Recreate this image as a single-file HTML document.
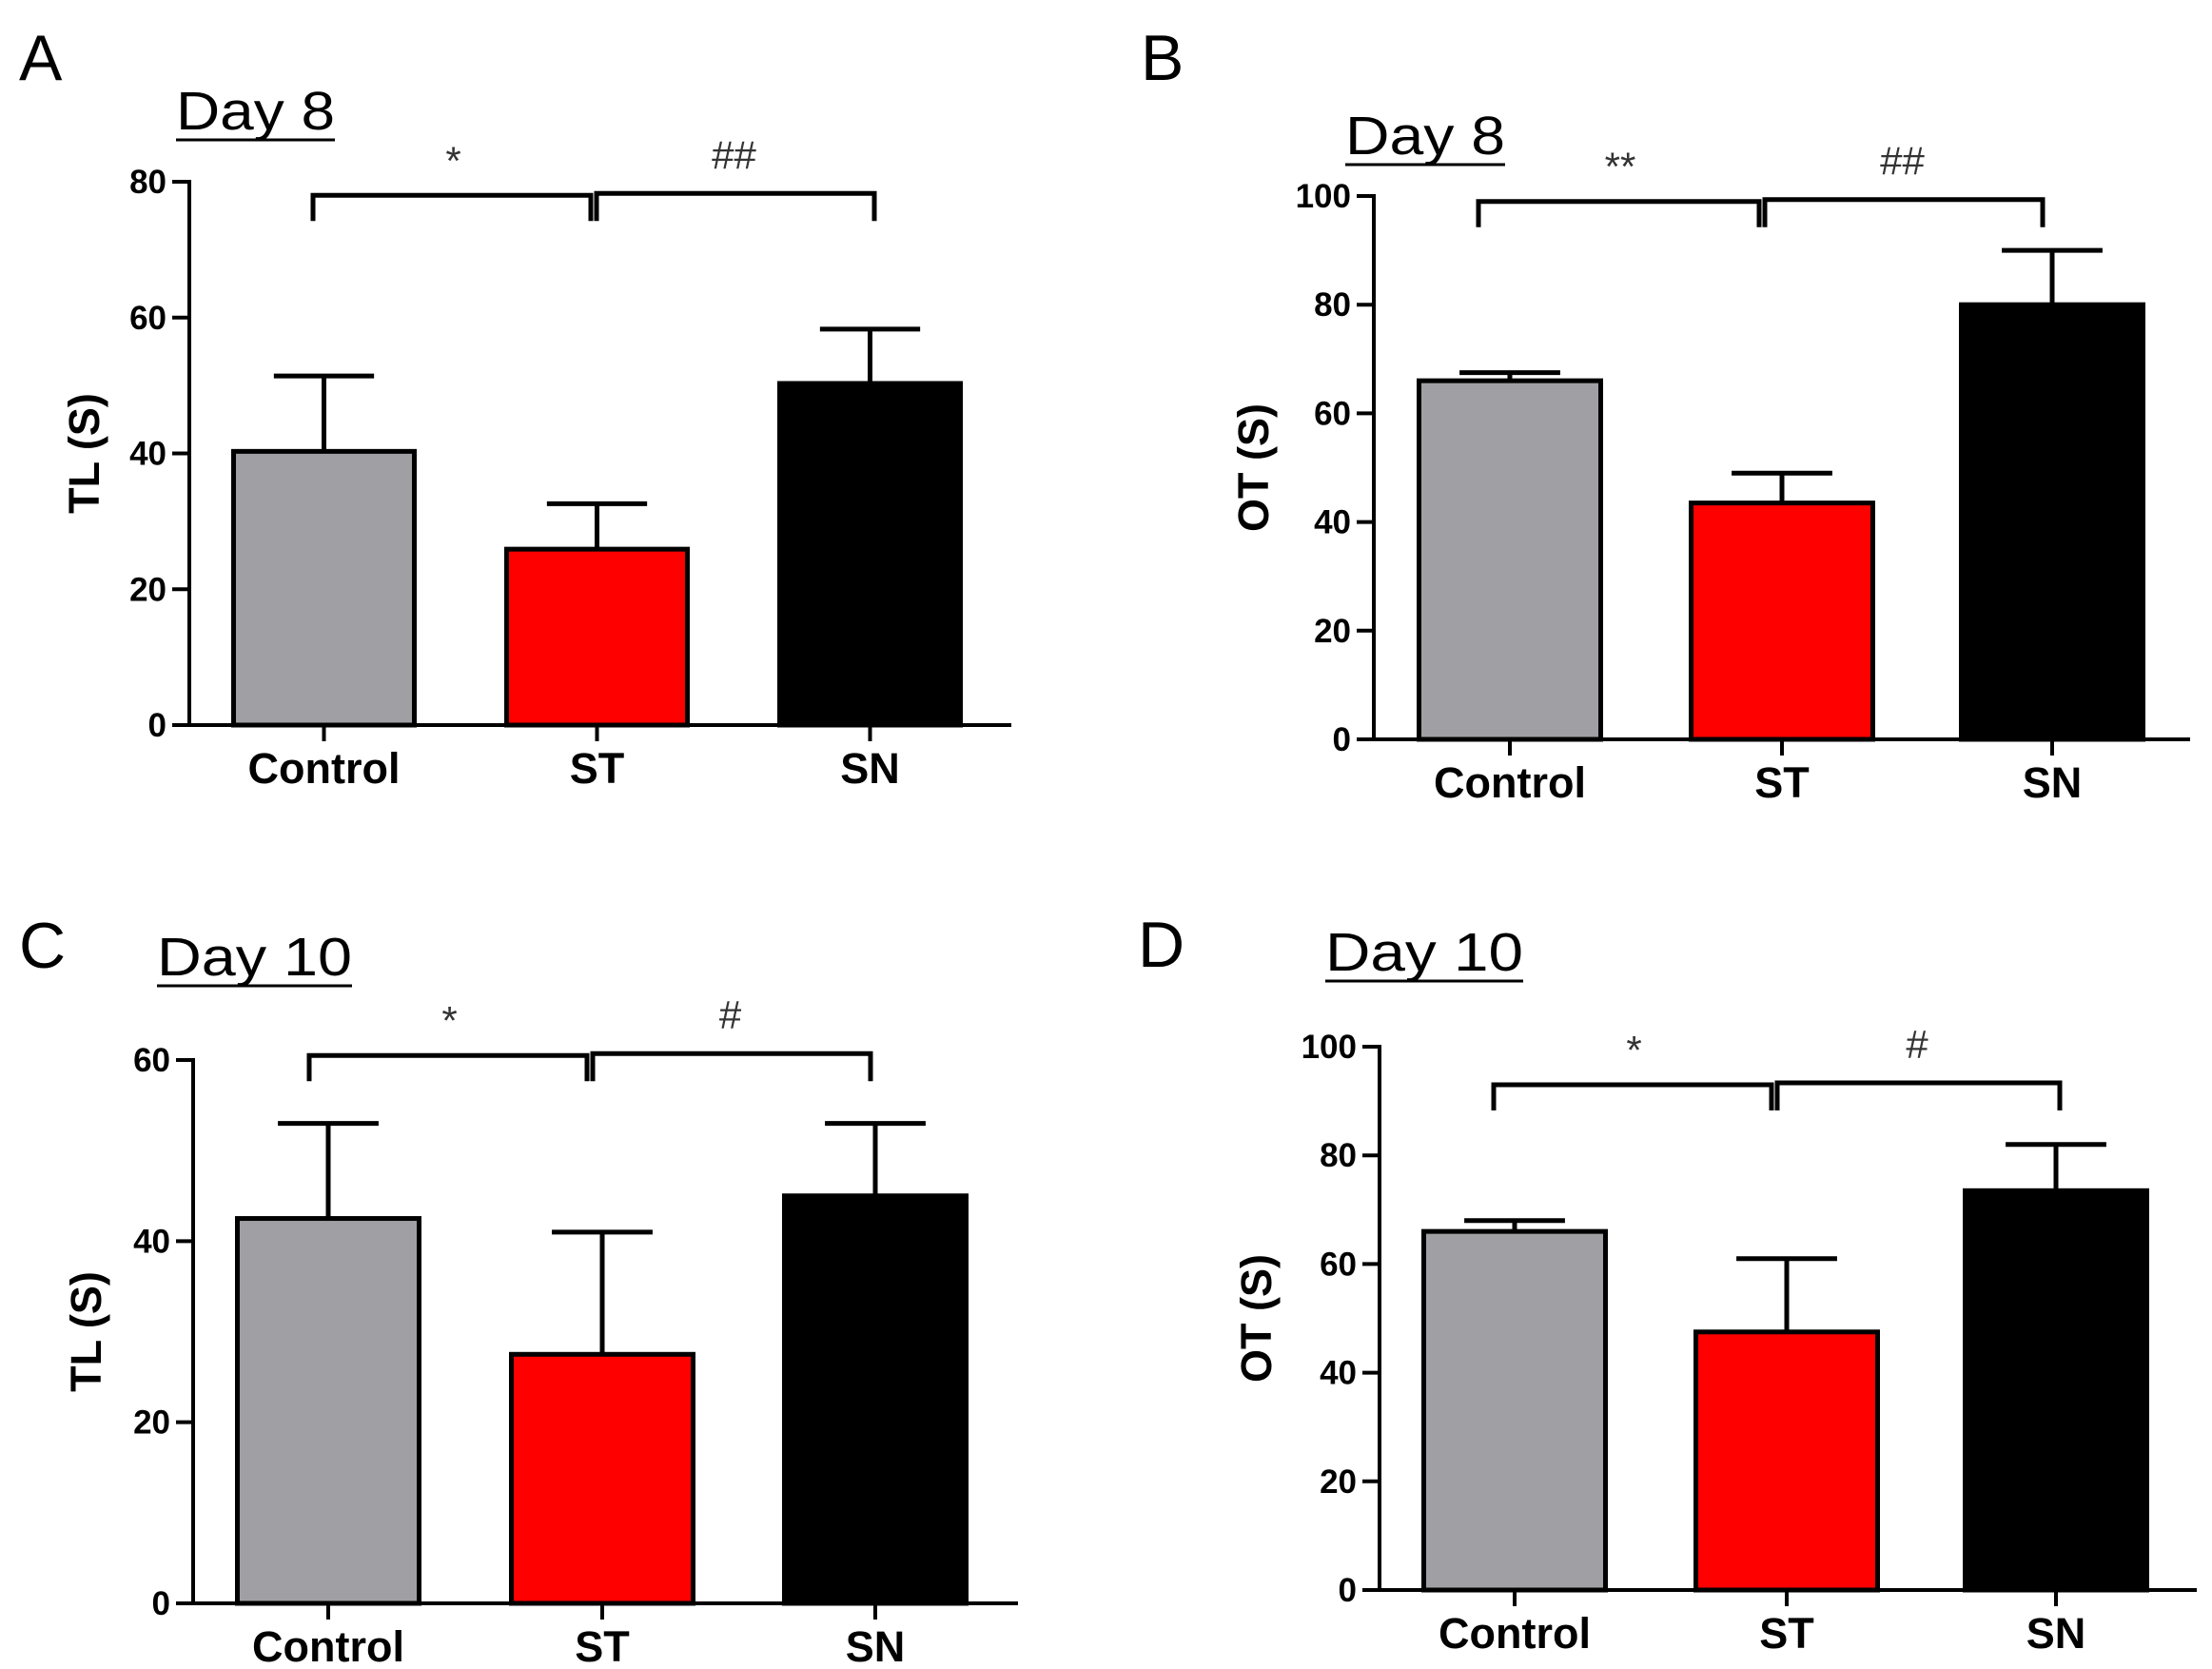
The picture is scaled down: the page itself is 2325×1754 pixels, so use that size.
<!DOCTYPE html>
<html><head><meta charset="utf-8">
<style>
html,body{margin:0;padding:0;background:#fff;}
svg{display:block;}
text{font-family:"Liberation Sans",sans-serif;}
</style></head>
<body>
<svg id="fig" width="2325" height="1754" viewBox="0 0 2325 1754" xmlns="http://www.w3.org/2000/svg"></svg>
<script>
const categories = ["Control","ST","SN"];
const aValues = [40.3, 25.9, 50.3];
const aErrors = [51.4, 32.6, 58.3];
const bValues = [66, 43.5, 80];
const bErrors = [67.5, 49, 90];
const cValues = [42.5, 27.5, 45];
const cErrors = [53, 41, 53];
const dValues = [66, 47.5, 73.5];
const dErrors = [68, 61, 82];
const aTicks = [0,20,40,60,80];
const bTicks = [0,20,40,60,80,100];
const cTicks = [0,20,40,60];
const dTicks = [0,20,40,60,80,100];
const aSig = ["*","##"];
const bSig = ["**","##"];
const cSig = ["*","#"];
const dSig = ["*","#"];
const aBracket = 78, bBracket = 99, cBracket = 60.5, dBracket = 93;

const NS = "http://www.w3.org/2000/svg";
const svg = document.getElementById("fig");
const fills = ["#a09fa4","#ff0000","#000000"];
function mk(tag, attrs, parent){
  const e = document.createElementNS(NS, tag);
  for (const k in attrs) e.setAttribute(k, attrs[k]);
  (parent||svg).appendChild(e);
  return e;
}
function panel(p){
  const g = mk("g", {});
  
  
  const maxV = p.ticks[p.ticks.length-1];
  const y = v => p.y0 - (p.y0 - p.yTop) * v / maxV;
  const barW = p.barW;
  const cx = i => p.bx[i] + barW/2;
  const L = mk("text", {x:p.lx, y:p.ly, "font-size":68, fill:"#000"}, g);
  L.textContent = p.id;
  
  
  const T = mk("text", {x:p.tx, y:p.ty, "font-size":57, fill:"#000", textLength:p.tw, lengthAdjust:"spacingAndGlyphs"}, g);
  T.textContent = p.title;
  
  
  const U = mk("line", {x1:p.tx, x2:p.tx+p.tw, y1:p.ty+11, y2:p.ty+11, stroke:"#000", "stroke-width":3}, g);
  
  
  for (let i=0;i<p.values.length;i++){
    const eb = mk("path", {d:`M${cx(i)} ${y(p.values[i])} V${y(p.errors[i])} M${cx(i)-barW*0.27} ${y(p.errors[i])} H${cx(i)+barW*0.27}`, stroke:"#000", "stroke-width":5, fill:"none"}, g);
    
    
    const r = mk("rect", {x:p.bx[i]+2.5, y:y(p.values[i]), width:barW-5, height:p.y0 - y(p.values[i]), fill:fills[i], stroke:"#000", "stroke-width":5}, g);
    
    
  }
  const ya = mk("line", {x1:p.ax, x2:p.ax, y1:p.yTop-2, y2:p.y0+2, stroke:"#000", "stroke-width":4}, g);
  
  
  const xa = mk("line", {x1:p.ax-18, x2:p.xEnd, y1:p.y0, y2:p.y0, stroke:"#000", "stroke-width":4}, g);
  
  
  p.ticks.forEach(t => {
    const tl = mk("line", {x1:p.ax-18, x2:p.ax, y1:y(t), y2:y(t), stroke:"#000", "stroke-width":4}, g);
    
    
    const tx = mk("text", {x:p.ax-24, y:y(t)+12, "font-size":35, "font-weight":"bold", "text-anchor":"end", fill:"#000"}, g);
    tx.textContent = t;
    
    
  });
  categories.forEach((c,i) => {
    const tl = mk("line", {x1:cx(i), x2:cx(i), y1:p.y0, y2:p.y0+17, stroke:"#000", "stroke-width":4}, g);
    
    
    const tx = mk("text", {x:cx(i), y:p.y0+61, "font-size":45, "font-weight":"bold", "text-anchor":"middle", fill:"#000"}, g);
    tx.textContent = c;
    
    
  });
  const yt = mk("text", {x:0, y:0, "font-size":45, "font-weight":"bold", "text-anchor":"middle", fill:"#000", transform:`translate(${p.ytx},${(p.yTop+p.y0)/2}) rotate(-90)`}, g);
  yt.textContent = p.ytitle;
  
  
  const by = y(p.bracket);
  const drop = 27;
  const [bl, bm, br] = p.bkx;
  const b1 = mk("path", {d:`M${bl} ${by+drop} V${by} H${bm-3} V${by+drop}`, stroke:"#000", "stroke-width":5, fill:"none"}, g);
  
  
  const b2 = mk("path", {d:`M${bm+3} ${by+drop} V${by-2} H${br} V${by+drop}`, stroke:"#000", "stroke-width":5, fill:"none"}, g);
  
  
  const s1 = mk("text", {x:(bl+bm)/2, y:by-22, "font-size":42, "text-anchor":"middle", fill:"#333", "font-family":"Liberation Serif, serif"}, g);
  s1.textContent = p.sig[0];
  
  
  const s2 = mk("text", {x:(bm+br)/2, y:by-28, "font-size":42, "text-anchor":"middle", fill:"#333", "font-family":"Liberation Serif, serif"}, g);
  s2.textContent = p.sig[1];
  
  
}
panel({id:"A", title:"Day 8", ytitle:"TL (S)", values:aValues, errors:aErrors, ticks:aTicks, sig:aSig, bracket:aBracket,
  lx:20, ly:84, tx:185, ty:136, tw:167, ax:199, yTop:191, y0:762, xEnd:1063, bx:[243,530,817], barW:195, ytx:104, bkx:[329,624,919]});
panel({id:"B", title:"Day 8", ytitle:"OT (S)", values:bValues, errors:bErrors, ticks:bTicks, sig:bSig, bracket:bBracket,
  lx:1199, ly:84, tx:1414, ty:162, tw:168, ax:1444, yTop:206, y0:777, xEnd:2302, bx:[1489,1775,2059], barW:196, ytx:1333, bkx:[1554,1852,2147]});
panel({id:"C", title:"Day 10", ytitle:"TL (S)", values:cValues, errors:cErrors, ticks:cTicks, sig:cSig, bracket:cBracket,
  lx:20, ly:1017, tx:165, ty:1025, tw:205, ax:203, yTop:1114, y0:1685, xEnd:1070, bx:[247,535,822], barW:196, ytx:106, bkx:[325,620,915]});
panel({id:"D", title:"Day 10", ytitle:"OT (S)", values:dValues, errors:dErrors, ticks:dTicks, sig:dSig, bracket:dBracket,
  lx:1196, ly:1016, tx:1393, ty:1020, tw:208, ax:1450, yTop:1100, y0:1671, xEnd:2309, bx:[1494,1780,2063], barW:196, ytx:1336, bkx:[1570,1865,2165]});
</script>
</body></html>
